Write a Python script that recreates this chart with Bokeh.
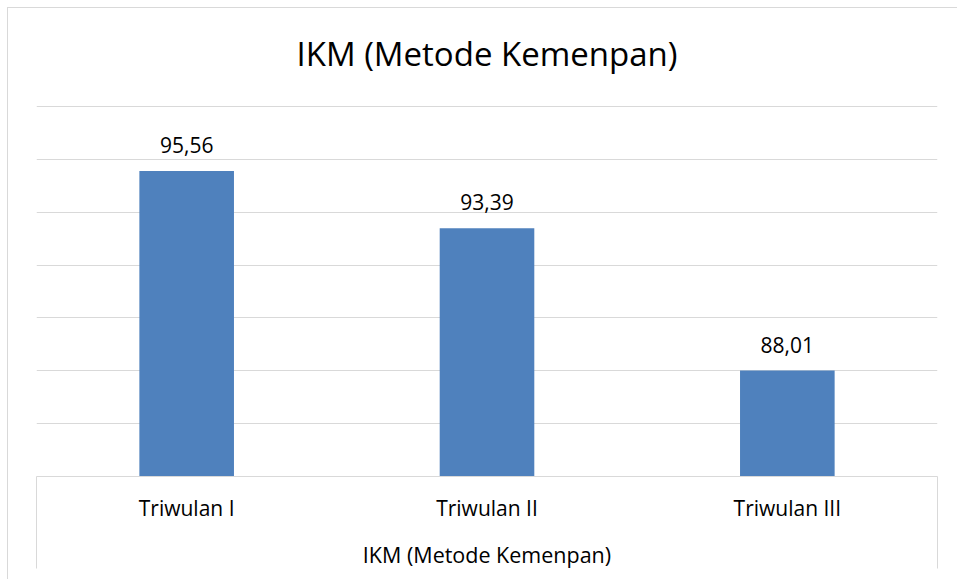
from bokeh.plotting import figure
from bokeh.models import Range1d, FixedTicker, LinearAxis, ColumnDataSource
from bokeh.core.properties import value
from bokeh.embed import file_html
from bokeh.resources import INLINE

# ---- data ----
title_text = "IKM (Metode Kemenpan)"
categories = ["Triwulan I", "Triwulan II", "Triwulan III"]
values = [95.56, 93.39, 88.01]
y_ticks = [84, 86, 88, 90, 92, 94, 96, 98]
y_min, y_max = 84, 98

FONT = "Open Sans"
BAR_COLOR = "#4f81bd"
GRID_COLOR = "#d9d9d9"

xpos = [i + 0.5 for i in range(len(categories))]
labels = [f"{v:.2f}".replace(".", ",") for v in values]
src = ColumnDataSource(dict(x=xpos, top=values, label=labels))

p = figure(width=950, height=572, output_backend="svg", toolbar_location=None,
           x_range=Range1d(0, len(categories)), y_range=Range1d(y_min, y_max + 0.04),
           x_axis_location=None, y_axis_location=None,
           min_border_left=28, min_border_right=21, min_border_top=97, min_border_bottom=104)
p.styles = {"margin-left": "7px", "margin-top": "7px",
            "border-left": "1px solid #d9d9d9", "border-top": "1px solid #d9d9d9"}
p.title.visible = False
p.outline_line_color = None
p.background_fill_color = "white"
p.border_fill_color = "white"

# chart title, drawn as the label of an empty top axis
ta = LinearAxis(ticker=FixedTicker(ticks=[]))
ta.axis_line_color = None
ta.major_tick_in = 0
ta.major_tick_out = 0
ta.minor_tick_in = 0
ta.minor_tick_out = 0
ta.major_label_text_alpha = 0
ta.axis_label = title_text
ta.axis_label_text_font = FONT
ta.axis_label_text_font_size = "33px"
ta.axis_label_text_font_style = "normal"
ta.axis_label_text_color = "#000000"
ta.axis_label_standoff = 30
p.add_layout(ta, "above")

# grid
p.xgrid.visible = False
p.ygrid.ticker = FixedTicker(ticks=y_ticks)
p.ygrid.grid_line_color = GRID_COLOR
p.ygrid.grid_line_width = 1

# x axis (category labels + table-like box)
xa = LinearAxis()
xa.ticker = FixedTicker(ticks=xpos, minor_ticks=[0, len(categories)])
xa.major_label_overrides = {float(x): c for x, c in zip(xpos, categories)}
xa.major_tick_in = 0
xa.major_tick_out = 0
xa.minor_tick_in = 0
xa.minor_tick_out = 92
xa.minor_tick_line_color = GRID_COLOR
xa.axis_line_color = GRID_COLOR
xa.major_label_text_font = FONT
xa.major_label_text_font_size = "21px"
xa.major_label_text_color = "#000000"
xa.major_label_standoff = -75
xa.axis_label = title_text
xa.axis_label_text_font = FONT
xa.axis_label_text_font_size = "21.5px"
xa.axis_label_text_font_style = "normal"
xa.axis_label_text_color = "#000000"
xa.axis_label_standoff = 15
p.add_layout(xa, "below")

p.vbar(x="x", top="top", bottom=y_min, width=0.315, source=src,
       fill_color=BAR_COLOR, line_color=None)
p.text(x="x", y="top", text="label", source=src, text_align="center",
       text_baseline="alphabetic", y_offset=-26, text_font=value(FONT),
       text_font_size="21px", text_color="#000000")

open("out.html", "w").write(file_html(p, INLINE))
